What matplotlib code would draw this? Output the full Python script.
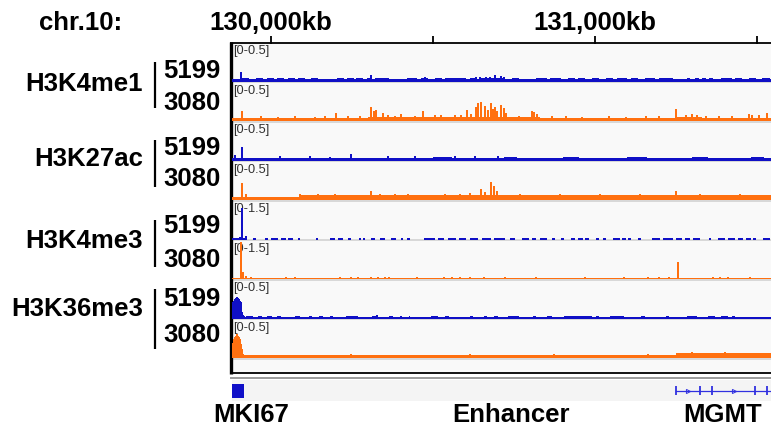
import matplotlib

matplotlib.use("Agg")
import matplotlib.pyplot as plt
from matplotlib.transforms import blended_transform_factory

# ---- data (positions in kb on chr10, signal in track units) ----
X0, X1 = 129880, 131543
ticks_kb = [130000, 130500, 131000, 131500]
tick_labels = ["130,000kb", "", "131,000kb", ""]

marks = ["H3K4me1", "H3K27ac", "H3K4me3", "H3K36me3"]
samples = ["5199", "3080"]
ranges = [0.5, 0.5, 0.5, 0.5, 1.5, 1.5, 0.5, 0.5]
range_labels = ["[0-0.5]", "[0-0.5]", "[0-0.5]", "[0-0.5]", "[0-1.5]", "[0-1.5]", "[0-0.5]", "[0-0.5]"]

# H3K4me1 / 5199
k4me1_a_base = 0.03
k4me1_a_bumps = [(129911, 129932), (129954, 129976), (129988, 130010), (130019, 130040), (130053, 130074),
                 (130084, 130105), (130124, 130145), (130204, 130226), (130235, 130256), (130263, 130284),
                 (130297, 130312), (130321, 130365), (130420, 130451), (130463, 130485), (130506, 130528),
                 (130537, 130602), (130614, 130636), (130645, 130722), (130744, 130766), (130818, 130852),
                 (130861, 130895), (130917, 130938), (130948, 130969), (130991, 131013), (131034, 131056),
                 (131068, 131099), (131111, 131133), (131155, 131186), (131198, 131241), (131284, 131293),
                 (131309, 131321), (131330, 131343), (131352, 131364), (131389, 131423), (131432, 131454),
                 (131475, 131497), (131516, 131540)]
k4me1_a_bump_h = 0.046
k4me1_a_spikes = [(129908, 0.13), (130309, 0.08), (130476, 0.062), (130633, 0.065), (130645, 0.06),
                  (130664, 0.06), (130676, 0.065), (130692, 0.09), (130710, 0.075), (130719, 0.065)]

# H3K4me1 / 3080
k4me1_b_base = 0.04
k4me1_b_bumps = [(130300, 130830), (131250, 131330)]
k4me1_b_bump_h = 0.054
k4me1_b_spikes = [(129911, 0.14), (130201, 0.11), (130309, 0.19), (130318, 0.13), (130324, 0.15),
                  (130346, 0.11), (130402, 0.10), (130469, 0.13), (130525, 0.08), (130568, 0.08),
                  (130605, 0.145), (130633, 0.185), (130639, 0.235), (130648, 0.25), (130661, 0.2),
                  (130670, 0.15), (130679, 0.24), (130685, 0.16), (130692, 0.185), (130698, 0.13),
                  (130710, 0.22), (130719, 0.175), (130726, 0.11), (130806, 0.14), (130812, 0.12),
                  (130821, 0.09), (131250, 0.155), (131300, 0.09), (131315, 0.075), (131475, 0.1),
                  (131485, 0.08), (131531, 0.11),
                  (129969, 0.07), (130022, 0.06), (130074, 0.065), (130136, 0.06), (130167, 0.065),
                  (130238, 0.07), (130275, 0.065), (130361, 0.08), (130383, 0.07), (130445, 0.07),
                  (130506, 0.08), (130587, 0.08), (130618, 0.1), (130766, 0.07), (130868, 0.065),
                  (130911, 0.07), (130960, 0.06), (131043, 0.065), (131096, 0.06), (131158, 0.07),
                  (131198, 0.07), (131281, 0.08), (131343, 0.07), (131383, 0.065), (131423, 0.07),
                  (131506, 0.08)]

# H3K27ac / 5199
k27ac_a_base = 0.04
k27ac_a_bumps = [(130500, 130560), (130720, 130760), (130900, 130950), (131100, 131160),
                 (131300, 131350), (131480, 131520)]
k27ac_a_bump_h = 0.05
k27ac_a_spikes = [(129889, 0.075), (129911, 0.175), (130247, 0.09), (130028, 0.055), (130121, 0.055),
                  (130182, 0.052), (130361, 0.055), (130445, 0.055), (130568, 0.055), (130630, 0.055),
                  (130700, 0.055)]

# H3K27ac / 3080
k27ac_b_base = 0.045
k27ac_b_bumps = [(130090, 131543)]
k27ac_b_bump_h = 0.062
k27ac_b_spikes = [(129911, 0.225), (129923, 0.08), (130309, 0.125), (130423, 0.08), (130491, 0.07),
                  (130614, 0.09), (130648, 0.145), (130661, 0.1), (130679, 0.235), (130689, 0.19),
                  (130698, 0.125), (131250, 0.125), (130090, 0.075), (130145, 0.075), (130198, 0.075),
                  (130337, 0.075), (130383, 0.075), (130537, 0.075), (130584, 0.075), (130769, 0.075),
                  (130892, 0.075), (131016, 0.075), (131139, 0.075), (131324, 0.075), (131448, 0.075)]

# H3K4me3 / 5199
k4me3_a_base = 0.0
k4me3_a_bumps = [(129880, 129920), (129945, 129954), (129982, 129991), (130000, 130022), (130031, 130047),
                 (130053, 130068), (130084, 130090), (130139, 130145), (130182, 130198), (130207, 130223),
                 (130238, 130247), (130272, 130278), (130284, 130290), (130309, 130321), (130337, 130352),
                 (130371, 130386), (130402, 130408), (130420, 130429), (130473, 130506), (130516, 130534),
                 (130547, 130571), (130581, 130602), (130614, 130639), (130652, 130679), (130689, 130722),
                 (130738, 130753), (130775, 130797), (130806, 130818), (130830, 130852), (130868, 130877),
                 (130895, 130905), (130926, 130938), (130948, 130963), (130969, 130982), (131003, 131013),
                 (131025, 131034), (131056, 131077), (131084, 131096), (131102, 131111), (131133, 131142),
                 (131176, 131201), (131210, 131241), (131250, 131269), (131278, 131293), (131303, 131324),
                 (131352, 131358), (131380, 131401), (131411, 131432), (131442, 131457), (131466, 131482),
                 (131488, 131497), (131519, 131540)]
k4me3_a_bump_h = 0.045
k4me3_a_spikes = [(129889, 0.08), (129905, 0.1), (129911, 1.27), (129923, 0.13)]

# H3K4me3 / 3080
k4me3_b_base = 0.05
k4me3_b_bumps = []
k4me3_b_bump_h = 0.0
k4me3_b_spikes = [(129908, 1.6), (129914, 0.27), (129923, 0.12), (129939, 0.09), (131256, 0.69),
                  (130047, 0.1), (130074, 0.09), (130213, 0.1), (130247, 0.09), (130269, 0.1),
                  (130309, 0.09), (130331, 0.09), (130352, 0.08), (130365, 0.1), (130451, 0.09),
                  (130534, 0.1), (130559, 0.09), (130584, 0.1), (130614, 0.09), (130658, 0.1),
                  (130722, 0.09), (130818, 0.1), (130969, 0.09), (131090, 0.1), (131164, 0.09),
                  (131198, 0.1), (131229, 0.09), (131364, 0.1), (131386, 0.09), (131411, 0.1),
                  (131478, 0.09)]

# H3K36me3 / 5199
k36me3_a_base = 0.02
k36me3_a_bumps = [(129923, 129945), (129960, 129973), (129988, 130003), (130019, 130031), (130074, 130090),
                  (130118, 130127), (130148, 130161), (130182, 130192), (130232, 130269), (130312, 130327),
                  (130365, 130377), (130398, 130405), (130426, 130429), (130494, 130516), (130537, 130550),
                  (130614, 130624), (130658, 130667), (130689, 130701), (130732, 130766), (130809, 130818),
                  (130852, 130868), (130905, 130991), (131003, 131013), (131047, 131090), (131142, 131155),
                  (131219, 131229), (131284, 131315), (131349, 131371), (131389, 131411), (131423, 131432)]
k36me3_a_bump_h = 0.034
k36me3_a_spikes = [(129880, 0.2), (129883, 0.22), (129886, 0.24), (129889, 0.26), (129892, 0.28),
                   (129895, 0.29), (129899, 0.28), (129902, 0.26), (129905, 0.24), (129908, 0.22),
                   (129911, 0.09), (129914, 0.05), (129917, 0.03), (130327, 0.045)]

# H3K36me3 / 3080
k36me3_b_base = 0.04
k36me3_b_bumps = [(131250, 131330), (131330, 131420), (131420, 131543)]
k36me3_b_bump_h = 0.07
k36me3_b_spikes = [(129880, 0.17), (129883, 0.2), (129886, 0.25), (129889, 0.28), (129892, 0.3),
                   (129895, 0.32), (129899, 0.3), (129902, 0.28), (129905, 0.26), (129908, 0.19),
                   (129911, 0.12), (129914, 0.06), (130247, 0.057), (130614, 0.05), (130873, 0.05),
                   (131164, 0.05), (131300, 0.085), (131400, 0.08)]

tracks = [
    (k4me1_a_base, k4me1_a_bumps, k4me1_a_bump_h, k4me1_a_spikes),
    (k4me1_b_base, k4me1_b_bumps, k4me1_b_bump_h, k4me1_b_spikes),
    (k27ac_a_base, k27ac_a_bumps, k27ac_a_bump_h, k27ac_a_spikes),
    (k27ac_b_base, k27ac_b_bumps, k27ac_b_bump_h, k27ac_b_spikes),
    (k4me3_a_base, k4me3_a_bumps, k4me3_a_bump_h, k4me3_a_spikes),
    (k4me3_b_base, k4me3_b_bumps, k4me3_b_bump_h, k4me3_b_spikes),
    (k36me3_a_base, k36me3_a_bumps, k36me3_a_bump_h, k36me3_a_spikes),
    (k36me3_b_base, k36me3_b_bumps, k36me3_b_bump_h, k36me3_b_spikes),
]

# genes
mki67_span = (129880, 129917)
mgmt_span = (131250, X1)
mgmt_exons = [131250, 131324, 131361, 131494, 131531]
mgmt_arrows = [131287, 131430]
gene_labels = ["MKI67", "Enhancer", "MGMT"]

# ---- layout (pixels) ----
W, H = 771, 430
BLUE = "#1010c6"
ORANGE = "#ff7010"
PANEL = "#f9f9f9"
LEFT, RIGHT = 232, 771
TOP0, STEP, TRACK_H = 44, 39.5, 37.5
FONT = "Liberation Sans"
BIG = 18.5

fig = plt.figure(figsize=(W / 100, H / 100), dpi=100)


def px_axes(x, y, w, h):
    return fig.add_axes([x / W, 1 - (y + h) / H, w / W, h / H])


bg = fig.add_axes([0, 0, 1, 1])
bg.set_xlim(0, W)
bg.set_ylim(H, 0)
bg.axis("off")

# panel background, frame and gene track
bg.add_patch(plt.Rectangle((LEFT, TOP0), RIGHT - LEFT, 372 - TOP0, color=PANEL, lw=0))
bg.add_patch(plt.Rectangle((LEFT, 379.5), RIGHT - LEFT, 21, color="#f4f4f4", lw=0))
for i in range(8):
    yb = TOP0 + i * STEP + TRACK_H
    bg.plot([LEFT, RIGHT], [yb + 0.9, yb + 0.9], color="#d2d2d2", lw=1.2, solid_capstyle="butt")
bg.plot([230.5, 230.5], [42, 373.5], color="black", lw=2.4, solid_capstyle="butt")
bg.plot([229.5, RIGHT], [43.2, 43.2], color="black", lw=1.3, solid_capstyle="butt")
bg.plot([229.5, RIGHT], [372.6, 372.6], color="black", lw=1.3, solid_capstyle="butt")
bg.plot([229.5, RIGHT], [378.4, 378.4], color="#9a9a9a", lw=1.4, solid_capstyle="butt")

# left labels
mark_y = [91, 166, 248, 316]
bar_y = [(62, 108), (140, 187), (220, 267), (289, 349)]
num_y = [78, 110, 155, 186, 233, 267, 306, 342]
for m, yy, (b0, b1) in zip(marks, mark_y, bar_y):
    bg.text(143, yy, m, ha="right", va="baseline", fontsize=BIG, fontweight="bold", family=FONT)
    bg.plot([155, 155], [b0, b1], color="black", lw=1.6, solid_capstyle="butt")
for i, yy in enumerate(num_y):
    bg.text(163, yy, samples[i % 2], ha="left", va="baseline", fontsize=BIG, fontweight="bold",
            family=FONT)
bg.text(81, 30, "chr.10:", ha="center", va="baseline", fontsize=BIG, fontweight="bold", family=FONT)

# ruler
ruler = px_axes(LEFT, 36, RIGHT - LEFT, 7.5)
ruler.set_xlim(X0, X1)
ruler.set_ylim(0, 1)
ruler.axis("off")
ruler.vlines(ticks_kb, 0, 1, color="black", lw=1.3)
tr = blended_transform_factory(ruler.transData, bg.transData)
for t, lab in zip(ticks_kb, tick_labels):
    if lab:
        bg.text(t, 30, lab, transform=tr, ha="center", va="baseline", fontsize=BIG,
                fontweight="bold", family=FONT)

# signal tracks
for i, (base, bumps, bump_h, spikes) in enumerate(tracks):
    color = BLUE if i % 2 == 0 else ORANGE
    top = TOP0 + i * STEP
    ax = px_axes(LEFT, top, RIGHT - LEFT, TRACK_H)
    ax.set_xlim(X0, X1)
    ax.set_ylim(0, ranges[i])
    ax.axis("off")
    if base > 0:
        ax.bar([X0], [base], width=X1 - X0, align="edge", color=color, lw=0)
    if bumps:
        ax.bar([s for s, e in bumps], [bump_h] * len(bumps), width=[e - s for s, e in bumps],
               align="edge", color=color, lw=0)
    ax.bar([p for p, v in spikes], [v for p, v in spikes], width=5.5, color=color, lw=0)
    bg.text(233.5, top + 1.2, range_labels[i], ha="left", va="top", fontsize=9.2, color="#303030",
            family=FONT)

# gene track
gene = px_axes(LEFT, 379.5, RIGHT - LEFT, 21)
gene.set_xlim(X0, X1)
gene.set_ylim(21, 0)
gene.axis("off")
gene.bar([mki67_span[0]], [14], bottom=[4.5], width=mki67_span[1] - mki67_span[0], align="edge",
         color="#1010c8", lw=0)
gene.plot(list(mgmt_span), [11, 11], color="#3030e0", lw=0.9)
gene.vlines(mgmt_exons, 6.5, 15.5, color="#3030e0", lw=1.3)
gene.plot(mgmt_arrows, [11] * len(mgmt_arrows), ls="none", marker=">", ms=3, mfc="none",
          mec="#3030e0", mew=0.7)

label_x = [251, 511, 723]
for lab, xx in zip(gene_labels, label_x):
    bg.text(xx, 422, lab, ha="center", va="baseline", fontsize=BIG, fontweight="bold", family=FONT)

fig.savefig("out.png", dpi=100, facecolor="white")
plt.close(fig)
